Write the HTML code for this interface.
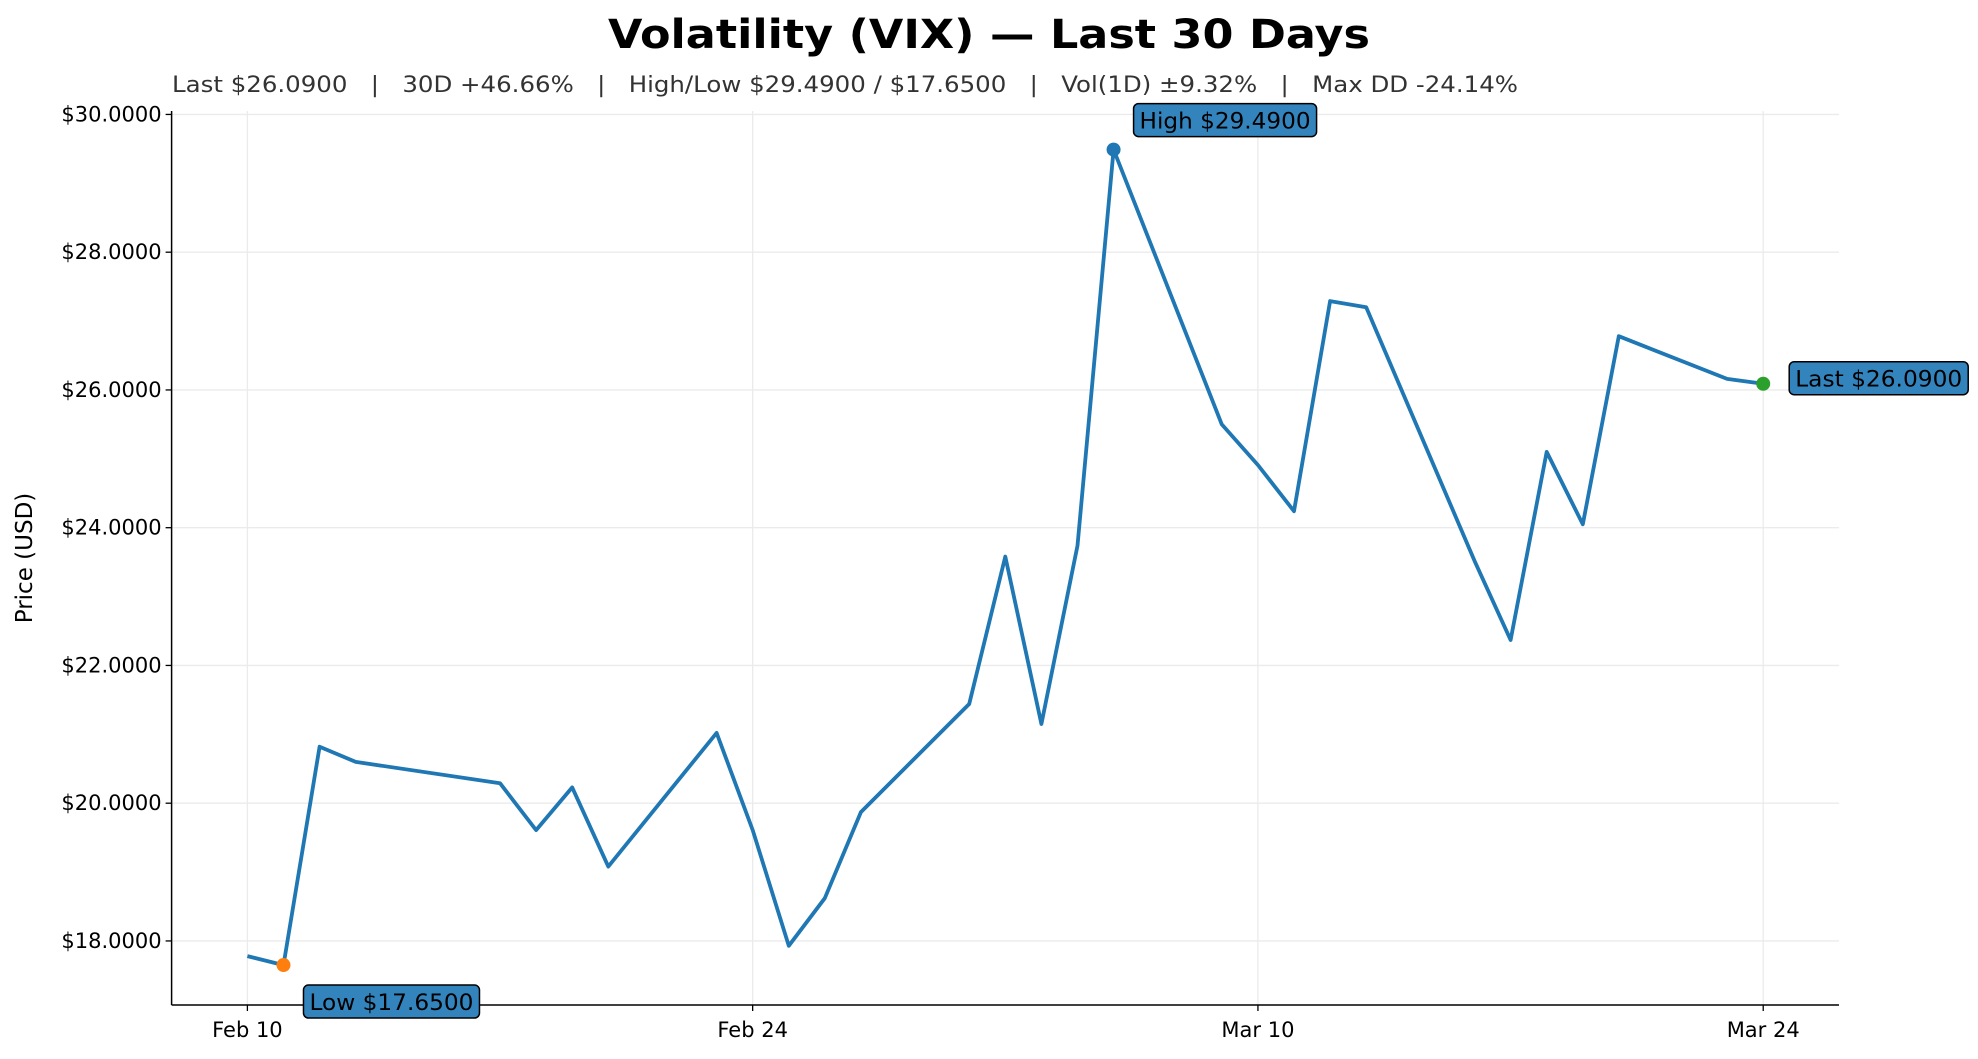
<!DOCTYPE html>
<html><head><meta charset="utf-8">
<style>
html,body{margin:0;padding:0;background:#fff;}
svg{display:block;font-family:"DejaVu Sans","Liberation Sans",sans-serif;}
</style></head>
<body>
<svg id="chart" width="1978" height="1059" viewBox="0 0 1978 1059">
  <text x="989" y="48" text-anchor="middle" font-size="40" font-weight="bold" textLength="762" lengthAdjust="spacingAndGlyphs">Volatility (VIX) — Last 30 Days</text>
  <text x="172" y="92" font-size="22" fill="#333" style="white-space:pre" xml:space="preserve" textLength="1346" lengthAdjust="spacingAndGlyphs">Last $26.0900   |   30D +46.66%   |   High/Low $29.4900 / $17.6500   |   Vol(1D) ±9.32%   |   Max DD -24.14%</text>
  <text transform="translate(32,558) rotate(-90)" text-anchor="middle" font-size="23">Price (USD)</text>
  <g id="grid"></g>
  <g id="axes"></g>
  <g id="marks"></g>
  <g id="annots"></g>
</svg>
<script>
const dayOffsets = [0,1,2,3,7,8,9,10,13,14,15,16,17,20,21,22,23,24,27,28,29,30,31,34,35,36,37,38,41,42];
const prices = [17.78,17.65,20.82,20.60,20.29,19.61,20.23,19.08,21.02,19.61,17.93,18.62,19.87,21.44,23.58,21.15,23.74,29.49,25.50,24.91,24.24,27.29,27.20,23.52,22.37,25.10,24.05,26.78,26.16,26.09];
const yTicks = [18,20,22,24,26,28,30];
const xTickDays = [0,14,28,42];
const xTickLabels = ["Feb 10","Feb 24","Mar 10","Mar 24"];

const L=171.6,R=1839,T=111,B=1005;
const xMin=-2.1,xMax=44.1,yMin=17.07,yMax=30.05;
const sx=d=>L+(d-xMin)/(xMax-xMin)*(R-L);
const sy=v=>B-(v-yMin)/(yMax-yMin)*(B-T);
const NS="http://www.w3.org/2000/svg";
function mk(tag,attrs,parent,text){const e=document.createElementNS(NS,tag);for(const k in attrs)e.setAttribute(k,attrs[k]);if(text!==undefined)e.textContent=text;parent.appendChild(e);return e;}
const grid=document.getElementById('grid'),axes=document.getElementById('axes'),marks=document.getElementById('marks'),ann=document.getElementById('annots');

yTicks.forEach(v=>{
  const g=mk('line',{x1:L,x2:R,y1:sy(v),y2:sy(v),stroke:'#ebebeb','stroke-width':1.3},grid);
  
  
  mk('line',{x1:L-6,x2:L,y1:sy(v),y2:sy(v),stroke:'#000','stroke-width':1.3},axes);
  const t=mk('text',{x:L-10,y:sy(v)+7,'text-anchor':'end','font-size':21},axes,'$'+v.toFixed(4));
  
  
});
xTickDays.forEach((d,i)=>{
  const g=mk('line',{x1:sx(d),x2:sx(d),y1:T,y2:B,stroke:'#ebebeb','stroke-width':1.3},grid);
  
  
  mk('line',{x1:sx(d),x2:sx(d),y1:B,y2:B+6,stroke:'#000','stroke-width':1.3},axes);
  const t=mk('text',{x:sx(d),y:B+32,'text-anchor':'middle','font-size':21},axes,xTickLabels[i]);
  
  
});
const ya=mk('line',{x1:L,x2:L,y1:T,y2:B,stroke:'#000','stroke-width':1.5},axes);


const xa=mk('line',{x1:L,x2:R,y1:B,y2:B,stroke:'#000','stroke-width':1.5},axes);



const pts=dayOffsets.map((d,i)=>sx(d).toFixed(1)+','+sy(prices[i]).toFixed(1)).join(' ');
const line=mk('polyline',{points:pts,fill:'none',stroke:'#1f77b4','stroke-width':3.8,'stroke-linejoin':'round'},marks);



let hi=0,lo=0;prices.forEach((p,i)=>{if(p>prices[hi])hi=i;if(p<prices[lo])lo=i;});
const last=prices.length-1;
function dot(i,color,name){const c=mk('circle',{cx:sx(dayOffsets[i]),cy:sy(prices[i]),r:7,fill:color},marks);
  
  }
dot(hi,'#1f77b4','high-marker');dot(lo,'#ff7f0e','low-marker');dot(last,'#2ca02c','last-marker');

function label(i,dx,dy,w,txt,name){
  const x=sx(dayOffsets[i])+dx,y=sy(prices[i])+dy;
  const g=mk('g',{},ann);
  
  
  mk('rect',{x:x,y:y,width:w,height:33,rx:5,fill:'#3384bc',stroke:'#000','stroke-width':1.5},g);
  mk('text',{x:x+6,y:y+25,'font-size':22,fill:'#000',textLength:w-12,lengthAdjust:'spacingAndGlyphs'},g,txt);
}
label(hi,20,-46,183,'High $'+prices[hi].toFixed(4),'high-annotation');
label(lo,20,20,176,'Low $'+prices[lo].toFixed(4),'low-annotation');
label(last,26,-22,179,'Last $'+prices[last].toFixed(4),'last-annotation');
</script>
</body></html>
